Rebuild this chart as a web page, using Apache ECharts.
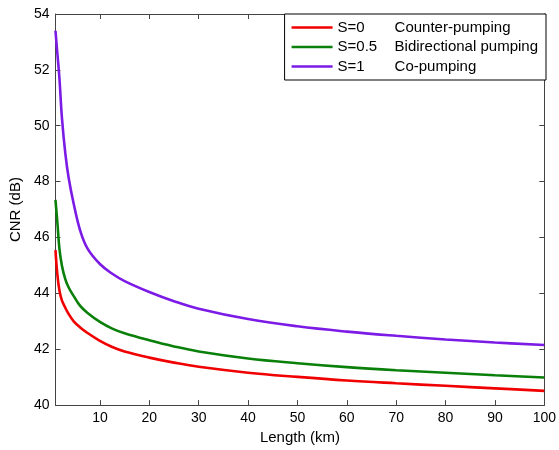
<!DOCTYPE html>
<html>
<head>
<meta charset="utf-8">
<script src="https://cdn.jsdelivr.net/npm/echarts@6/dist/echarts.min.js"></script>
<style>html,body{margin:0;padding:0;background:#fff;}#c{width:559px;height:450px;}</style>
</head>
<body>
<div id="c"></div>
<script>
// Length (km)
var lengths = [1, 1.4, 1.8, 2.3, 3, 3.7, 4.7, 6, 7.5, 10, 12.5, 15, 20, 25, 30, 40, 50, 60, 70, 80, 90, 100];
// CNR (dB)
var cnrS0  = [45.55, 44.64, 44.1, 43.75, 43.48, 43.25, 43.0, 42.78, 42.58, 42.3, 42.08, 41.92, 41.7, 41.52, 41.37, 41.16, 41.01, 40.88, 40.78, 40.69, 40.6, 40.51];
var cnrS05 = [47.35, 46.5, 45.6, 45.0, 44.5, 44.2, 43.9, 43.55, 43.3, 42.98, 42.74, 42.57, 42.32, 42.1, 41.92, 41.67, 41.5, 41.36, 41.25, 41.16, 41.07, 40.99];
var cnrS1  = [53.4, 52.55, 51.7, 50.3, 49.0, 48.1, 47.2, 46.25, 45.6, 45.05, 44.7, 44.44, 44.05, 43.72, 43.45, 43.08, 42.82, 42.63, 42.48, 42.35, 42.24, 42.15];
var seriesNames = ['S=0', 'S=0.5', 'S=1'];
var seriesDesc = ['Counter-pumping', 'Bidirectional pumping', 'Co-pumping'];
var xTicks = [10, 20, 30, 40, 50, 60, 70, 80, 90, 100];
var yTicks = [40, 42, 44, 46, 48, 50, 52, 54];

function pairs(ys) { return lengths.map(function (x, i) { return [x, ys[i]]; }); }

var colors = ['#f00000', '#0a800a', '#7c1ae6'];
var font = 'Liberation Sans, Arial, sans-serif';
var axisColor = '#444';
var lineIcon = 'path://M0,0h0.01v0.01h-0.01z M0,5.7h41v2.6h-41z M40.99,13.99h0.01v0.01h-0.01z';

function mk(name, ys, c) {
  return {
    name: name, type: 'line', data: pairs(ys), symbol: 'none',
    smooth: 0.4,
    lineStyle: { color: c, width: 2.6 }, itemStyle: { color: c }
  };
}

var chart = echarts.init(document.getElementById('c'), null, { renderer: 'canvas' });
chart.setOption({
  animation: false,
  backgroundColor: '#fff',
  grid: { left: 55, right: 13, top: 14, bottom: 43 },
  legend: {
    data: seriesNames.map(function (n) { return { name: n, icon: lineIcon }; }),
    orient: 'vertical',
    right: 13, top: 14,
    backgroundColor: '#fff',
    borderColor: '#000', borderWidth: 1, borderRadius: 0,
    padding: [6, 8, 6, 7],
    itemWidth: 41, itemHeight: 14, itemGap: 4.5,
    formatter: function (n) {
      var i = seriesNames.indexOf(n);
      return '{a|' + n + '}{b|' + seriesDesc[i] + '}';
    },
    textStyle: {
      color: '#000', fontFamily: font, fontSize: 15,
      rich: {
        a: { width: 57, fontFamily: font, fontSize: 15, color: '#000' },
        b: { fontFamily: font, fontSize: 15, color: '#000' }
      }
    }
  },
  xAxis: [{
    type: 'value', min: 1, max: 100,
    name: 'Length (km)', nameLocation: 'middle', nameGap: 22,
    nameTextStyle: { fontFamily: font, fontSize: 15, color: '#000' },
    axisLine: { lineStyle: { color: axisColor, width: 1 } },
    axisTick: { inside: true, length: 5, customValues: xTicks, lineStyle: { color: axisColor } },
    axisLabel: { customValues: xTicks, fontFamily: font, fontSize: 14, color: '#000', margin: 6 },
    splitLine: { show: false }
  }, {
    type: 'value', min: 1, max: 100, position: 'top',
    axisLine: { lineStyle: { color: axisColor, width: 1 } },
    axisTick: { inside: true, length: 5, customValues: xTicks, lineStyle: { color: axisColor } },
    axisLabel: { show: false }, splitLine: { show: false }
  }],
  yAxis: [{
    type: 'value', min: 40, max: 54, interval: 2,
    name: 'CNR (dB)', nameLocation: 'middle', nameGap: 28,
    nameTextStyle: { fontFamily: font, fontSize: 15, color: '#000' },
    axisLine: { show: true, lineStyle: { color: axisColor, width: 1 } },
    axisTick: { show: true, inside: true, length: 5, lineStyle: { color: axisColor } },
    axisLabel: { fontFamily: font, fontSize: 14, color: '#000', margin: 6,
      formatter: function (v) { return yTicks.indexOf(v) >= 0 ? String(v) : ''; } },
    splitLine: { show: false }
  }, {
    type: 'value', min: 40, max: 54, interval: 2, position: 'right',
    axisLine: { show: true, lineStyle: { color: axisColor, width: 1 } },
    axisTick: { show: true, inside: true, length: 5, lineStyle: { color: axisColor } },
    axisLabel: { show: false }, splitLine: { show: false }
  }],
  series: [
    mk(seriesNames[0], cnrS0, colors[0]),
    mk(seriesNames[1], cnrS05, colors[1]),
    mk(seriesNames[2], cnrS1, colors[2])
  ]
});
</script>
</body>
</html>
